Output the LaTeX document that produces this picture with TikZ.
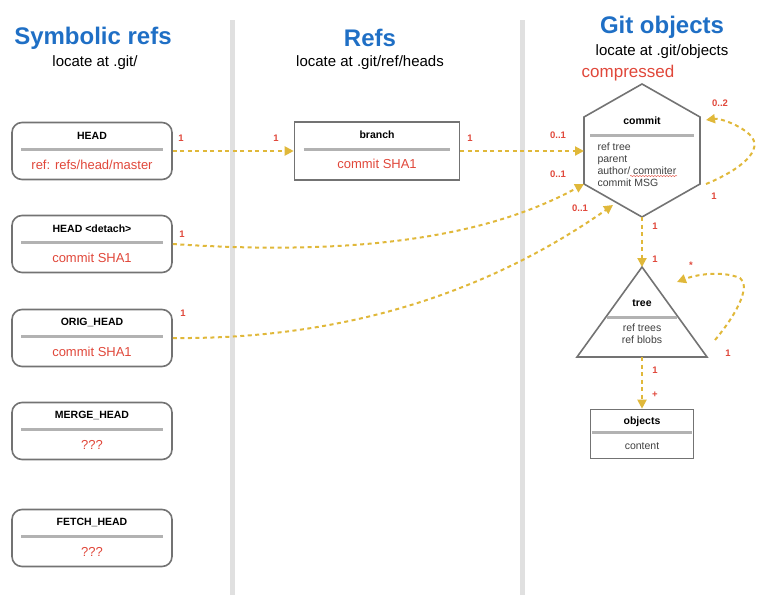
\documentclass[tikz,border=0pt]{standalone}
\usepackage{fontspec}
\setmainfont{Liberation Sans}
\usetikzlibrary{positioning,arrows.meta,decorations.pathmorphing}
\definecolor{titleblue}{HTML}{1F6FC5}
\definecolor{refred}{HTML}{E0473A}
\definecolor{linkgold}{HTML}{E0B83A}
\tikzset{
  refbox/.style={draw=black!55, line width=1.6pt, rounded corners=10pt, minimum width=160pt, minimum height=57pt},
  headbox/.style={draw=black!55, line width=1.6pt, minimum width=165pt, minimum height=58pt},
  link/.style={draw=linkgold, line width=2pt, dash pattern=on 4pt off 3.5pt, -{Triangle[length=9pt,width=9pt]}},
  mult/.style={text=refred, font=\fontsize{9.5}{10}\selectfont\bfseries},
  ttl/.style={font=\fontsize{10.5}{11}\selectfont\bfseries},
  val/.style={text=refred, font=\fontsize{13}{14}\selectfont},
  body/.style={text=black!75, font=\fontsize{10.5}{12}\selectfont},
  sq/.style={draw=black!30, line width=3pt}
}
\newcommand{\refnode}[5]{% name, style, x, y, title / value
  \node[#2] (#1) at (#3,#4) {};
  \node[ttl] at ([yshift=-14pt]#1.north) {#5};
  \draw[sq] ([xshift=10pt,yshift=-28pt]#1.north west) -- ([xshift=-10pt,yshift=-28pt]#1.north east);
}
\begin{document}
\begin{tikzpicture}[x=1pt,y=-1pt]
  \useasboundingbox (0,0) rectangle (778,600);

  % separators
  \draw[black!12, line width=5pt] (232,20) -- (232,595);
  \draw[black!12, line width=5pt] (522,20) -- (522,595);

  % titles
  \node[text=titleblue, font=\fontsize{24}{26}\selectfont\bfseries] at (93,38) {Symbolic refs};
  \node[font=\fontsize{15}{16}\selectfont] at (95,63) {locate at .git/};
  \node[text=titleblue, font=\fontsize{24}{26}\selectfont\bfseries] at (370,38) {Refs};
  \node[font=\fontsize{15}{16}\selectfont] at (370,63) {locate at .git/ref/heads};
  \node[text=titleblue, font=\fontsize{24}{26}\selectfont\bfseries] at (662,27) {Git objects};
  \node[font=\fontsize{15}{16}\selectfont] at (662,52) {locate at .git/objects};
  \node[text=refred, font=\fontsize{17}{18}\selectfont] at (628,73) {compressed};

  % symbolic refs
  \refnode{head}{refbox}{92}{151}{HEAD}
  \node[val] at ([yshift=-43pt]head.north) {ref: refs/head/master};
  \refnode{detach}{refbox}{92}{244}{HEAD <detach>}
  \node[val] at ([yshift=-43pt]detach.north) {commit SHA1};
  \refnode{orig}{refbox}{92}{338}{ORIG\_HEAD}
  \node[val] at ([yshift=-43pt]orig.north) {commit SHA1};
  \refnode{merge}{refbox}{92}{431}{MERGE\_HEAD}
  \node[val] at ([yshift=-43pt]merge.north) {???};
  \refnode{fetch}{refbox}{92}{538}{FETCH\_HEAD}
  \node[val] at ([yshift=-43pt]fetch.north) {???};

  % refs
  \refnode{branch}{headbox}{377}{151}{branch}
  \node[val] at ([yshift=-43pt]branch.north) {commit SHA1};

  % commit
  \coordinate (cT) at (642,84);
  \coordinate (cUR) at (700,117);
  \coordinate (cLR) at (700,184);
  \coordinate (cB) at (642,217);
  \coordinate (cLL) at (584,184);
  \coordinate (cUL) at (584,117);
  \draw[black!55, line width=1.6pt, fill=white] (cT) -- (cUR) -- (cLR) -- (cB) -- (cLL) -- (cUL) -- cycle;
  \node[ttl] (commit) at (642,121) {commit};
  \draw[sq] (590,135) -- (694,135);
  \node[body, align=left, anchor=north west] at (594,139) {ref tree\\parent\\author/ commiter\\commit MSG};
  \draw[refred, decorate, decoration={snake, amplitude=0.6pt, segment length=3pt}] (630,176) -- (677,176);

  % tree
  \coordinate (tT) at (642,267);
  \coordinate (tL) at (577,357);
  \coordinate (tR) at (707,357);
  \draw[black!55, line width=1.6pt] (tT) -- (tR) -- (tL) -- cycle;
  \node[ttl] (tree) at (642,303) {tree};
  \draw[sq] (607,317) -- (677,317);
  \node[body, align=center] at (642,334) {ref trees\\ref blobs};

  % objects
  \node[draw=black!55, line width=1.6pt, minimum width=103pt, minimum height=49pt] (objects) at (642,434) {};
  \node[ttl] at ([yshift=-13pt]objects.north) {objects};
  \draw[sq] ([xshift=2pt,yshift=-24pt]objects.north west) -- ([xshift=-2pt,yshift=-24pt]objects.north east);
  \node[body] at ([yshift=-37pt]objects.north) {content};

  % links
  \draw[link] (head.east) -- (branch.west);
  \node[mult] at (181,138) {1};
  \node[mult] at (276,138) {1};
  \draw[link] (branch.east) -- (584,151);
  \node[mult] at (470,138) {1};
  \node[mult] at (558,135) {0..1};
  \draw[link] (detach.east) .. controls (380,258) and (500,230) .. (cLL);
  \node[mult] at (182,234) {1};
  \node[mult] at (558,174) {0..1};
  \draw[link] (orig.east) .. controls (380,340) and (520,270) .. (613,205);
  \node[mult] at (183,313) {1};
  \node[mult] at (580,208) {0..1};
  \draw[link] (706,184) .. controls (740,170) and (765,150) .. (750,135) .. controls (740,125) and (720,118) .. (706,120);
  \node[mult] at (720,103) {0..2};
  \node[mult] at (714,196) {1};
  \draw[link] (cB) -- (tT);
  \node[mult] at (655,226) {1};
  \node[mult] at (655,259) {1};
  \draw[link] (715,340) .. controls (740,310) and (750,285) .. (740,278) .. controls (720,270) and (695,275) .. (677,282);
  \node[mult] at (691,265) {*};
  \node[mult] at (728,353) {1};
  \draw[link] (642,357) -- (objects.north);
  \node[mult] at (655,370) {1};
  \node[mult] at (655,395) {+};
\end{tikzpicture}
\end{document}
